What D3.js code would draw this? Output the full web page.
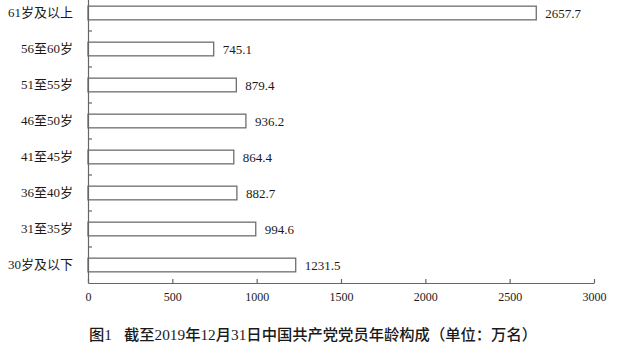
<!DOCTYPE html>
<html>
<head>
<meta charset="utf-8">
<script src="https://cdn.jsdelivr.net/npm/d3@7"></script>
<style>
  html, body { margin: 0; padding: 0; background: #fff; }
  svg { display: block; }
  .serif { font-family: "Liberation Serif", "DejaVu Serif", "Noto Sans CJK SC", serif; }
</style>
</head>
<body>
<svg id="chart" width="624" height="356"></svg>
<script>
const categories = ["61岁及以上", "56至60岁", "51至55岁", "46至50岁", "41至45岁", "36至40岁", "31至35岁", "30岁及以下"];
const values = [2657.7, 745.1, 879.4, 936.2, 864.4, 882.7, 994.6, 1231.5];
const xTicks = [0, 500, 1000, 1500, 2000, 2500, 3000];
const titlePrefix = "图1";
const titleText = "截至2019年12月31日中国共产党党员年龄构成（单位：万名）";

const svg = d3.select("#chart");
const axisColor = "#666";

const x = d3.scaleLinear().domain([0, 3000]).range([88, 594]);
const y = d3.scaleBand().domain(categories).range([-5, 283]).padding(0);
const barH = y.bandwidth() * 0.38;

// bars
svg.append("g").selectAll("rect").data(values).join("rect")
  .attr("x", x(0))
  .attr("y", (d, i) => y(categories[i]) + (y.bandwidth() - barH) / 2)
  .attr("width", d => x(d) - x(0))
  .attr("height", barH)
  .attr("fill", "#fff")
  .attr("stroke", "#6e6e6e")
  .attr("stroke-width", 1.3);

// value labels
svg.append("g").selectAll("text").data(values).join("text")
  .attr("class", "serif")
  .attr("x", d => x(d) + 9)
  .attr("y", (d, i) => y(categories[i]) + y.bandwidth() / 2)
  .attr("dy", "0.35em")
  .attr("font-size", 13)
  .attr("fill", "#1a1a1a")
  .text(d => d.toFixed(1));

// x axis
const xAxis = svg.append("g").attr("transform", `translate(0,${y.range()[1]})`)
  .call(d3.axisBottom(x).tickValues(xTicks).tickFormat(d3.format("d"))
    .tickSizeInner(-4).tickSizeOuter(0).tickPadding(9));
xAxis.attr("font-family", null);
xAxis.select(".domain").attr("stroke", axisColor).attr("stroke-width", 1.2);
xAxis.selectAll(".tick line").attr("stroke", axisColor).attr("stroke-width", 1.2);
xAxis.selectAll(".tick text")
  .attr("class", "serif").attr("font-size", 12).attr("fill", "#1a1a1a");

// y axis
const yAxis = svg.append("g").attr("transform", `translate(${x(0)},0)`)
  .call(d3.axisLeft(y).tickSize(0).tickPadding(15));
yAxis.attr("font-family", null);
yAxis.select(".domain").attr("stroke", axisColor).attr("stroke-width", 1.2);
yAxis.selectAll(".tick text")
  .attr("class", "serif").attr("font-size", 13).attr("fill", "#1a1a1a");

// band boundary ticks
svg.append("g").selectAll("line").data(categories.slice(1)).join("line")
  .attr("x1", x(0)).attr("x2", x(0) + 4)
  .attr("y1", d => y(d)).attr("y2", d => y(d))
  .attr("stroke", axisColor).attr("stroke-width", 1.2);

// title
const t = svg.append("text")
  .attr("class", "serif")
  .attr("x", 89).attr("y", 335)
  .attr("dy", "0.35em")
  .attr("font-size", 15.3)
  .attr("font-weight", 500)
  .attr("fill", "#1a1a1a");
t.append("tspan").text(titlePrefix);
t.append("tspan").attr("dx", 12).text(titleText);
</script>
</body>
</html>
